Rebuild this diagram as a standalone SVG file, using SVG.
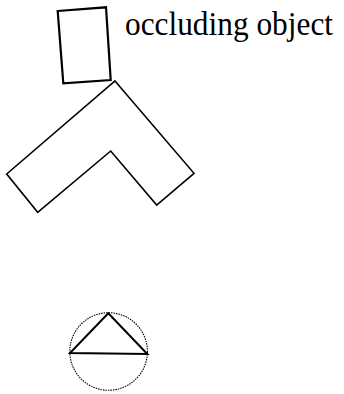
<svg xmlns="http://www.w3.org/2000/svg" width="344" height="394" viewBox="0 0 344 394">
<style>
.s{fill:none;stroke:#000;stroke-linejoin:miter}
.lbl{font-family:"Liberation Serif","Times New Roman",serif;font-size:33px;fill:#000}
</style>
<rect width="344" height="394" fill="#fff"/>
<g id="occluder">
<polygon class="s" stroke-width="2.2" points="57.7,11 106,7.3 110.7,80 63.3,83.3"/>
<text class="lbl" x="125" y="35" textLength="208" lengthAdjust="spacingAndGlyphs">occluding object</text>
</g>
<g id="chevron">
<polygon class="s" stroke-width="1.6" points="115,81 194,173.3 156.7,205 110.7,151 37.7,212.3 6.7,174"/>
</g>
<g id="view">
<circle cx="108.6" cy="351.5" r="38.8" fill="none" stroke="#000" stroke-width="1.1" stroke-dasharray="1.5,1"/>
<polygon class="s" stroke-width="2" points="108.3,313.3 147.3,354 70,353"/>
</g>
</svg>
